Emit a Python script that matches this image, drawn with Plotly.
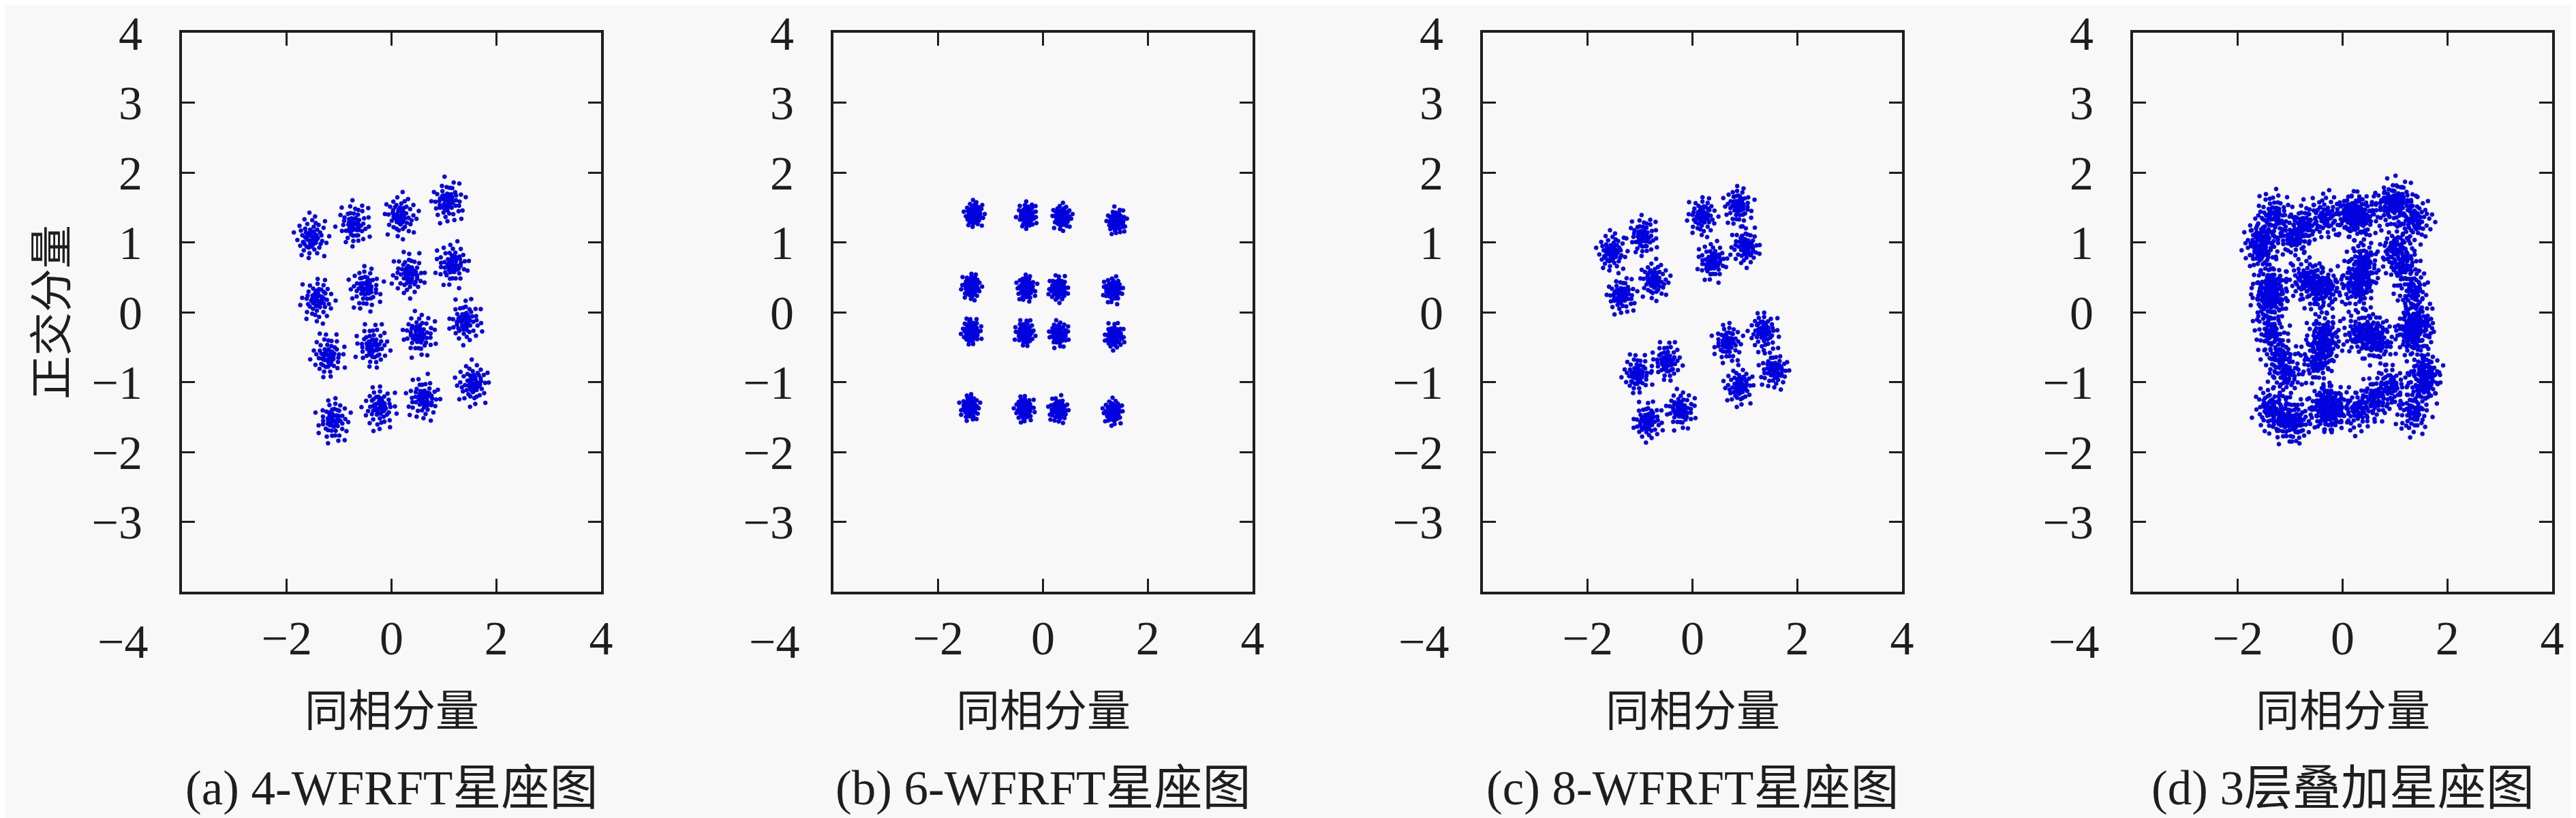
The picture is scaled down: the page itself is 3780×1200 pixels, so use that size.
import math
import plotly.graph_objects as go

# ---------------- data ----------------
# cluster centres (in-phase, quadrature) for each panel
centers_a_x = [-1.54, -0.71, 0.16, 1.06, -1.40, -0.50, 0.35, 1.18,
               -1.22, -0.35, 0.51, 1.39, -1.10, -0.24, 0.63, 1.57]
centers_a_y = [1.06, 1.24, 1.39, 1.58, 0.19, 0.36, 0.53, 0.69,
               -0.64, -0.50, -0.31, -0.14, -1.53, -1.35, -1.24, -1.01]

centers_b_x = [-1.32, -0.30, 0.35, 1.39, -1.36, -0.32, 0.31, 1.35,
               -1.37, -0.34, 0.29, 1.35, -1.39, -0.36, 0.31, 1.35]
centers_b_y = [1.39, 1.37, 1.37, 1.30, 0.38, 0.36, 0.33, 0.32,
               -0.29, -0.31, -0.31, -0.35, -1.35, -1.37, -1.40, -1.42]

centers_c_x = [-1.55, -0.94, -0.74, -1.37, 0.20, 0.87, 1.03, 0.40,
               -1.06, -0.48, -0.24, -0.87, 0.68, 1.35, 1.58, 0.91]
centers_c_y = [0.85, 1.07, 0.47, 0.24, 1.39, 1.54, 0.93, 0.73,
               -0.90, -0.72, -1.39, -1.57, -0.42, -0.26, -0.83, -1.05]

# panel (d): superposition of the three layers
centers_d_x = centers_a_x + centers_b_x + centers_c_x
centers_d_y = centers_a_y + centers_b_y + centers_c_y

# cluster spread per panel (estimated)
spread_a = 0.135
spread_b = 0.08
spread_c = 0.12
spread_d = 0.14

# hand-typed noise cloud template (unit spread)
noise_dx = [0.1, -0.3, 0.8, -1.1, 0.4, -0.6, 1.5, -0.2, 0.9, -1.4,
            0.0, 0.3, -0.8, 1.2, -0.5, 0.6, -1.9, 0.2, 1.8, -1.0,
            0.5, -0.1, 1.0, -0.7, 0.3, -0.4, 2.2, -0.3, 0.7, -1.2,
            0.1, 1.3, -0.9, 0.4, -0.2, 0.9, -1.6, 1.6, -0.6, 0.2,
            -2.4, 0.6, 2.0, -1.3, 0.0, 0.8, -0.5, 0.3, -0.1, 1.1,
            -0.8, 1.4, -0.3, 0.5, -1.5, 2.6, -0.2, 0.7, -0.9, 1.9]
noise_dy = [0.2, 0.5, -0.2, -0.4, 1.2, -0.9, 0.3, -1.6, 0.9, 0.8,
            -0.3, -0.7, 0.1, -1.0, 1.5, 0.4, -0.2, 1.9, 1.1, -1.3,
            -1.2, 0.9, 0.0, 0.6, 0.1, -0.2, -0.5, -2.1, -0.5, 0.3,
            -0.9, 0.6, -0.6, 0.7, 0.3, -1.6, 1.3, -0.3, -0.1, -0.1,
            0.6, 2.3, 1.8, -1.8, 0.6, 0.3, 0.2, -0.4, -0.6, 1.4,
            1.0, -0.6, -1.0, 0.0, -0.8, 0.2, 2.7, 1.6, 2.0, -1.9]

x_tick_vals = [-4, -2, 0, 2, 4]
x_tick_text = ["", "\u22122", "0", "2", "4"]
y_tick_vals = [-4, -3, -2, -1, 0, 1, 2, 3, 4]
y_tick_text = ["", "\u22123", "\u22122", "\u22121", "0", "1", "2", "3", "4"]

captions = ["(a) 4-WFRFT星座图", "(b) 6-WFRFT星座图",
            "(c) 8-WFRFT星座图", "(d) 3层叠加星座图"]
x_title = "同相分量"
y_title = "正交分量"

# ---------------- build the cloud ----------------
def cloud(cx, cy, s):
    xs, ys = [], []
    golden = 2.39996
    for k, (mx, my) in enumerate(zip(cx, cy)):
        a = k * golden
        ca, sa = math.cos(a), math.sin(a)
        flip = -1 if k % 2 else 1
        for dx, dy in zip(noise_dx, noise_dy):
            dy2 = flip * dy
            xs.append(mx + s * (dx * ca - dy2 * sa))
            ys.append(my + s * (dx * sa + dy2 * ca))
    return xs, ys

panels = [(centers_a_x, centers_a_y, spread_a),
          (centers_b_x, centers_b_y, spread_b),
          (centers_c_x, centers_c_y, spread_c),
          (centers_d_x, centers_d_y, spread_d)]

W, H = 3780, 1200
box_left = [259, 1215, 2168, 3122]
box_w = 615
box_top, box_bot = 40, 860

fig = go.Figure()
SERIF = "Liberation Serif, 'Noto Sans CJK SC', serif"
CJK = "'Noto Sans CJK SC', sans-serif"
INK = "#1e1e1e"

for i, (cx, cy, s) in enumerate(panels):
    xs, ys = cloud(cx, cy, s)
    sfx = "" if i == 0 else str(i + 1)
    fig.add_trace(go.Scatter(
        x=xs, y=ys, mode="markers", xaxis="x" + sfx, yaxis="y" + sfx,
        marker=dict(size=6, color="#0000ff",
                    line=dict(color="#00008b", width=0.6)),
        showlegend=False, hoverinfo="skip"))

    dom_x = [box_left[i] / W, (box_left[i] + box_w) / W]
    dom_y = [1 - box_bot / H, 1 - box_top / H]
    axis_common = dict(showgrid=False, zeroline=False, showline=True,
                       linecolor=INK, linewidth=4, mirror="allticks",
                       ticks="inside", ticklen=19, tickwidth=2.5,
                       tickcolor=INK, automargin=False,
                       tickfont=dict(family=SERIF, size=70, color=INK))
    fig.update_layout(**{
        "xaxis" + sfx: dict(domain=dom_x, range=[-4, 4], anchor="y" + sfx,
                            tickmode="array", tickvals=x_tick_vals,
                            ticktext=x_tick_text, ticklabelstandoff=4,
                            **axis_common),
        "yaxis" + sfx: dict(domain=dom_y, range=[-4, 4], anchor="x" + sfx,
                            tickmode="array", tickvals=y_tick_vals,
                            ticktext=y_tick_text, ticklabelstandoff=40,
                            **axis_common),
    })

    xc = (box_left[i] + box_w / 2) / W
    # stray "-4" label
    fig.add_annotation(xref="paper", yref="paper",
                       x=(box_left[i] - 48) / W, y=1 - 933 / H,
                       text="\u22124", showarrow=False, xanchor="right",
                       yanchor="middle",
                       font=dict(family=SERIF, size=70, color=INK))
    # x-axis title
    fig.add_annotation(xref="paper", yref="paper", x=xc, y=1 - 1029 / H,
                       text=x_title, showarrow=False, xanchor="center",
                       yanchor="middle",
                       font=dict(family=CJK, size=64, color=INK))
    # caption
    fig.add_annotation(xref="paper", yref="paper", x=xc, y=1 - 1148 / H,
                       text=captions[i], showarrow=False, xanchor="center",
                       yanchor="middle",
                       font=dict(family=SERIF, size=71, color=INK))

fig.add_annotation(xref="paper", yref="paper", x=62 / W,
                   y=1 - 450 / H, text=y_title, textangle=-90,
                   showarrow=False, xanchor="center", yanchor="middle",
                   font=dict(family=CJK, size=64, color=INK))

fig.update_layout(width=W, height=H, margin=dict(l=0, r=0, t=0, b=0),
                  paper_bgcolor="#f8f8f8", plot_bgcolor="#f8f8f8")

fig.write_html("out.html")
